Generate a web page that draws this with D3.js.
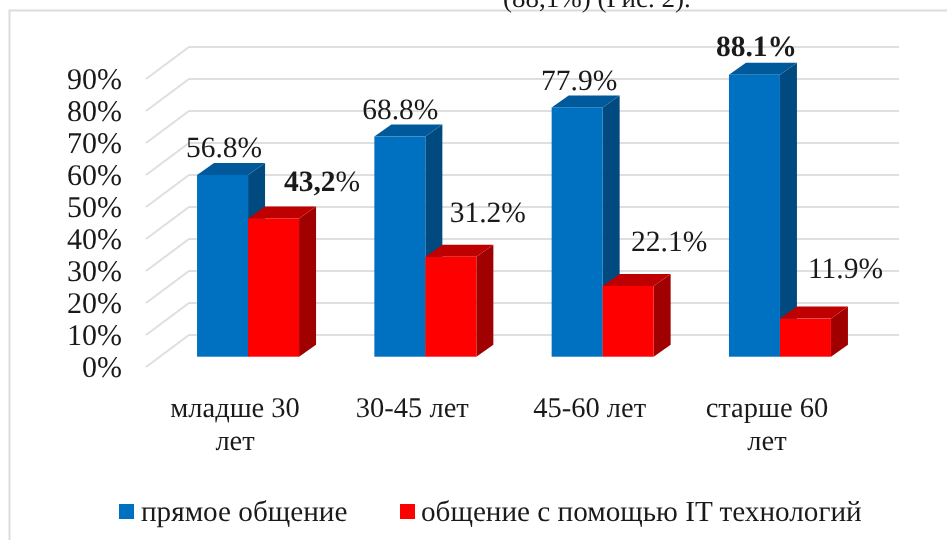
<!DOCTYPE html>
<html>
<head>
<meta charset="utf-8">
<script src="https://cdn.jsdelivr.net/npm/d3@7"></script>
<style>
  html, body { margin: 0; padding: 0; background: #fff; }
  svg { display: block; filter: blur(0.4px); }
  text { font-family: "Liberation Serif", serif; fill: #1a1a1a; text-rendering: geometricPrecision; }
</style>
</head>
<body>
<svg id="chart"></svg>
<script>
const categories = ["младше 30 лет", "30-45 лет", "45-60 лет", "старше 60 лет"];
const categoryLines = [["младше 30", "лет"], ["30-45 лет"], ["45-60 лет"], ["старше 60", "лет"]];
const seriesNames = ["прямое общение", "общение с помощью IT технологий"];
const directValues = [56.8, 68.8, 77.9, 88.1];
const itValues = [43.2, 31.2, 22.1, 11.9];
const directLabels = ["56.8%", "68.8%", "77.9%", "88.1%"];
const itLabels = ["43,2%", "31.2%", "22.1%", "11.9%"];
const yTicks = [0, 10, 20, 30, 40, 50, 60, 70, 80, 90];

const width = 947, height = 540;
const depthX = 17, depthY = 12;   // bar depth
const wallX = 43, wallY = 32;     // floor depth

const svg = d3.select("#chart").attr("width", width).attr("height", height);

// frame of the pasted picture, cut on the right and at the bottom
svg.append("path")
  .attr("d", "M9.5,540V10.5H947")
  .attr("fill", "none")
  .attr("stroke", "#dcdcdc")
  .attr("stroke-width", 2);

// line of the page text above the chart
svg.append("text")
  .attr("x", 503)
  .attr("y", 7)
  .style("font-size", "27px")
  .text("(88,1%) (Рис. 2).");

const yFront = d3.scaleLinear().domain([0, 90]).range([367, 79]);
const yBar = d3.scaleLinear().domain([0, 90]).range([356.7, 68.7]);

const x = d3.scaleBand()
  .domain(categories)
  .range([159.4, 868.6])
  .paddingInner(75.3 / 177.3)
  .paddingOuter(75.3 / 177.3 / 2);

const xSeries = d3.scaleBand()
  .domain(seriesNames)
  .range([0, x.bandwidth()]);

// gridlines on the floor side and on the back wall
const grid = svg.append("g");
grid.selectAll("path")
  .data(yTicks)
  .enter()
  .append("path")
  .attr("d", d => `M146,${yFront(d)}L${146 + wallX},${yFront(d) - wallY}H899`)
  .attr("fill", "none")
  .attr("stroke", "#dfdfdf")
  .attr("stroke-width", 2);

// y axis
const yAxis = svg.append("g")
  .attr("transform", "translate(122,0)")
  .call(d3.axisLeft(yFront).tickValues(yTicks).tickSize(0).tickPadding(0).tickFormat(d => d + "%"));
yAxis.attr("font-family", null).attr("font-size", null);
yAxis.select(".domain").remove();
yAxis.selectAll("text")
  .style("font-size", "30px")
  .style("font-family", '"Liberation Serif", serif')
  .style("fill", "#1a1a1a")
  .attr("dy", "0.31em");

// one 3d bar: side, top, front
function drawBar(g, bx, value, colors) {
  const w = xSeries.bandwidth();
  const top = yBar(value);
  const bottom = yBar(0);
  g.append("path")
    .attr("d", `M${bx + w},${top}l${depthX},${-depthY}V${bottom - depthY}l${-depthX},${depthY}Z`)
    .attr("fill", colors.side);
  g.append("path")
    .attr("d", `M${bx},${top}l${depthX},${-depthY}h${w}l${-depthX},${depthY}Z`)
    .attr("fill", colors.top);
  g.append("rect")
    .attr("x", bx)
    .attr("y", top)
    .attr("width", w)
    .attr("height", bottom - top)
    .attr("fill", colors.front);
}

const blue = { front: "#0070c0", top: "#00599a", side: "#004a80" };
const red = { front: "#ff0000", top: "#bf0000", side: "#a00000" };

const bars = svg.append("g");
categories.forEach((c, i) => {
  drawBar(bars, x(c) + xSeries(seriesNames[0]), directValues[i], blue);
  drawBar(bars, x(c) + xSeries(seriesNames[1]), itValues[i], red);
});

// data labels were dragged by hand in the original, so each has its own shift
const directShift = [[1.5, -18], [0.5, -18], [2, -17], [2, -19]];
const itShift = [[48.5, -27], [37, -35], [41, -35], [40, -41]];

// 43,2 has a plain percent sign, 88.1% is bold all the way
function addLabel(label, px, py, boldDigits, boldPercent) {
  const t = svg.append("text")
    .attr("x", px)
    .attr("y", py)
    .attr("text-anchor", "middle")
    .style("font-size", "29.5px");
  t.append("tspan").style("font-weight", boldDigits ? "bold" : "normal").text(label.slice(0, -1));
  t.append("tspan").style("font-weight", boldPercent ? "bold" : "normal").text("%");
}

categories.forEach((c, i) => {
  const w = xSeries.bandwidth();
  addLabel(directLabels[i],
    x(c) + xSeries(seriesNames[0]) + w / 2 + directShift[i][0],
    yBar(directValues[i]) + directShift[i][1],
    i === 3, i === 3);
  addLabel(itLabels[i],
    x(c) + xSeries(seriesNames[1]) + w / 2 + itShift[i][0],
    yBar(itValues[i]) + itShift[i][1],
    i === 0, false);
});

// category labels
categories.forEach((c, i) => {
  const t = svg.append("text")
    .attr("text-anchor", "middle")
    .style("font-size", "28.5px");
  categoryLines[i].forEach((line, k) => {
    t.append("tspan")
      .attr("x", x(c) + x.bandwidth() / 2 - 13)
      .attr("y", 417 + k * 33)
      .text(line);
  });
});

// legend
const legendX = [119, 400];
const legendText = [141, 421];
seriesNames.forEach((name, i) => {
  svg.append("rect")
    .attr("x", legendX[i])
    .attr("y", 504)
    .attr("width", 15)
    .attr("height", 15)
    .attr("fill", i === 0 ? blue.front : red.front);
  svg.append("text")
    .attr("x", legendText[i])
    .attr("y", 521)
    .style("font-size", "29.2px")
    .text(name);
});
</script>
</body>
</html>
